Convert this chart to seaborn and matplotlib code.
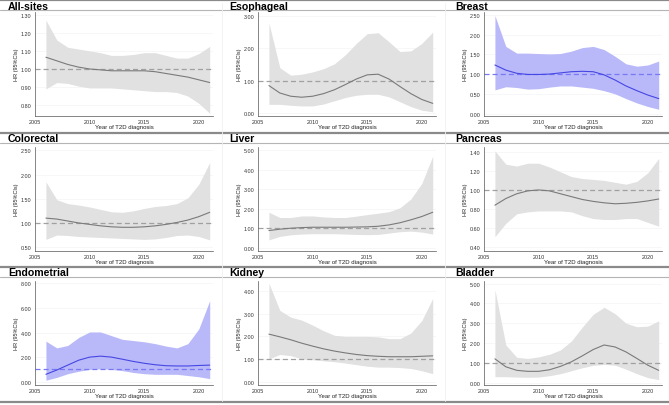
import matplotlib

matplotlib.use("Agg")
import matplotlib.pyplot as plt
import numpy as np
import pandas as pd
import seaborn as sns
from matplotlib.lines import Line2D

years = list(range(2006, 2022))

sites = ["All-sites", "Esophageal", "Breast",
         "Colorectal", "Liver", "Pancreas",
         "Endometrial", "Kidney", "Bladder"]

hr = {
    "All-sites": [1.065, 1.045, 1.025, 1.01, 1.0, 0.995, 0.99, 0.99, 0.99, 0.99, 0.985, 0.975, 0.965, 0.955, 0.94, 0.925],
    "Esophageal": [0.85, 0.62, 0.52, 0.49, 0.52, 0.60, 0.72, 0.88, 1.05, 1.18, 1.20, 1.05, 0.82, 0.60, 0.42, 0.30],
    "Breast": [1.23, 1.10, 1.02, 0.99, 0.99, 1.00, 1.03, 1.06, 1.07, 1.06, 0.98, 0.85, 0.70, 0.58, 0.47, 0.38],
    "Colorectal": [1.10, 1.08, 1.04, 1.00, 0.97, 0.94, 0.92, 0.91, 0.91, 0.92, 0.94, 0.97, 1.01, 1.06, 1.13, 1.22],
    "Liver": [0.88, 0.95, 1.00, 1.03, 1.05, 1.05, 1.05, 1.05, 1.06, 1.07, 1.10, 1.17, 1.28, 1.43, 1.60, 1.82],
    "Pancreas": [0.84, 0.91, 0.96, 0.99, 1.00, 0.99, 0.96, 0.93, 0.90, 0.88, 0.865, 0.855, 0.86, 0.87, 0.885, 0.905],
    "Endometrial": [0.60, 0.95, 1.35, 1.75, 2.00, 2.08, 2.00, 1.83, 1.65, 1.50, 1.38, 1.30, 1.28, 1.28, 1.32, 1.35],
    "Kidney": [2.10, 1.98, 1.85, 1.70, 1.57, 1.45, 1.35, 1.27, 1.20, 1.15, 1.12, 1.10, 1.10, 1.10, 1.12, 1.14],
    "Bladder": [1.20, 0.80, 0.62, 0.57, 0.57, 0.65, 0.82, 1.05, 1.35, 1.67, 1.90, 1.80, 1.55, 1.22, 0.88, 0.62],
}

ci_upper = {
    "All-sites": [1.27, 1.16, 1.12, 1.11, 1.10, 1.09, 1.075, 1.075, 1.08, 1.09, 1.09, 1.075, 1.06, 1.06, 1.085, 1.125],
    "Esophageal": [2.78, 1.40, 1.17, 1.20, 1.27, 1.37, 1.52, 1.80, 2.15, 2.45, 2.48, 2.20, 1.90, 1.92, 2.15, 2.50],
    "Breast": [2.48, 1.70, 1.53, 1.53, 1.52, 1.51, 1.52, 1.58, 1.67, 1.70, 1.62, 1.45, 1.26, 1.20, 1.23, 1.33],
    "Colorectal": [1.85, 1.48, 1.40, 1.37, 1.33, 1.28, 1.23, 1.22, 1.25, 1.30, 1.34, 1.36, 1.40, 1.52, 1.80, 2.25],
    "Liver": [1.82, 1.55, 1.55, 1.63, 1.63, 1.58, 1.55, 1.55, 1.62, 1.70, 1.77, 1.85, 2.05, 2.50, 3.30, 4.70],
    "Pancreas": [1.41, 1.27, 1.25, 1.28, 1.28, 1.24, 1.19, 1.14, 1.12, 1.11, 1.10, 1.08, 1.06, 1.09, 1.18, 1.33],
    "Endometrial": [3.30, 2.75, 2.95, 3.60, 4.05, 4.05, 3.75, 3.45, 3.35, 3.25, 3.10, 2.90, 2.75, 3.10, 4.30, 6.60],
    "Kidney": [4.35, 3.15, 2.85, 2.72, 2.50, 2.25, 2.05, 2.00, 2.00, 2.00, 1.98, 1.90, 1.90, 2.15, 2.70, 3.68],
    "Bladder": [4.70, 1.90, 1.28, 1.22, 1.30, 1.43, 1.65, 2.10, 2.80, 3.45, 3.80, 3.48, 3.00, 2.82, 2.85, 3.12],
}

ci_lower = {
    "All-sites": [0.89, 0.925, 0.92, 0.905, 0.895, 0.895, 0.895, 0.89, 0.885, 0.88, 0.875, 0.875, 0.87, 0.85, 0.81, 0.755],
    "Esophageal": [0.27, 0.27, 0.24, 0.22, 0.22, 0.28, 0.38, 0.48, 0.55, 0.58, 0.58, 0.50, 0.35, 0.20, 0.09, 0.04],
    "Breast": [0.60, 0.68, 0.66, 0.62, 0.63, 0.67, 0.70, 0.70, 0.67, 0.64, 0.58, 0.50, 0.38, 0.27, 0.18, 0.11],
    "Colorectal": [0.66, 0.75, 0.74, 0.72, 0.71, 0.70, 0.69, 0.68, 0.67, 0.66, 0.67, 0.70, 0.74, 0.75, 0.72, 0.65],
    "Liver": [0.40, 0.58, 0.66, 0.70, 0.72, 0.72, 0.72, 0.70, 0.68, 0.67, 0.68, 0.75, 0.82, 0.85, 0.80, 0.70],
    "Pancreas": [0.51, 0.65, 0.75, 0.77, 0.78, 0.78, 0.78, 0.77, 0.73, 0.70, 0.69, 0.69, 0.70, 0.70, 0.66, 0.62],
    "Endometrial": [0.12, 0.35, 0.65, 0.85, 1.00, 1.05, 1.00, 0.90, 0.75, 0.65, 0.60, 0.60, 0.60, 0.50, 0.40, 0.25],
    "Kidney": [1.00, 1.20, 1.15, 1.00, 0.97, 0.92, 0.88, 0.82, 0.75, 0.68, 0.64, 0.64, 0.62, 0.58, 0.48, 0.35],
    "Bladder": [0.30, 0.30, 0.28, 0.27, 0.28, 0.35, 0.45, 0.60, 0.75, 0.87, 0.92, 0.88, 0.68, 0.45, 0.25, 0.15],
}

y_limits = {
    "All-sites": (0.74, 1.315), "Esophageal": (-0.09, 3.12), "Breast": (-0.06, 2.57),
    "Colorectal": (0.42, 2.57), "Liver": (-0.17, 5.17), "Pancreas": (0.36, 1.45),
    "Endometrial": (-0.27, 8.2), "Kidney": (-0.15, 4.45), "Bladder": (-0.12, 5.13),
}
y_ticks = {
    "All-sites": np.arange(0.8, 1.31, 0.1), "Esophageal": np.arange(0, 3.1, 1.0),
    "Breast": np.arange(0, 2.51, 0.5), "Colorectal": np.arange(0.5, 2.51, 0.5),
    "Liver": np.arange(0, 5.1, 1.0), "Pancreas": np.arange(0.4, 1.41, 0.2),
    "Endometrial": np.arange(0, 8.1, 2.0), "Kidney": np.arange(0, 4.1, 1.0),
    "Bladder": np.arange(0, 5.1, 1.0),
}
blue_sites = {"Breast", "Endometrial"}

W, H = 669, 406
sns.set_style("white")
plt.rcParams["font.family"] = ["Liberation Sans", "DejaVu Sans"]

fig = plt.figure(figsize=(W / 100, H / 100), dpi=100)

col_left = [35, 258, 484]
col_title_x = [8, 229, 455]
row_top = [13, 148, 282]
row_line = [1, 134, 268]
ax_w, ax_h = 178, 104


def px_rect(left, top, width, height):
    return [left / W, 1 - (top + height) / H, width / W, height / H]


# row separators and title bars
for y in row_line:
    fig.add_artist(Line2D([0, 1], [1 - y / H] * 2, color="#8a8a8a", lw=1.6))
    fig.add_artist(Line2D([0, 1], [1 - (y + 10) / H] * 2, color="#b5b5b5", lw=0.8))
fig.add_artist(Line2D([0, 1], [1 - 403 / H] * 2, color="#8a8a8a", lw=1.6))
for x in [222, 445]:
    fig.add_artist(Line2D([x / W] * 2, [0.01, 0.99], color="#f0f0f0", lw=0.6))

for k, site in enumerate(sites):
    r, c = divmod(k, 3)
    ax = fig.add_axes(px_rect(col_left[c], row_top[r], ax_w, ax_h))
    df = pd.DataFrame({"year": years, "hr": hr[site],
                       "lo": ci_lower[site], "hi": ci_upper[site]})
    if site in blue_sites:
        fill_c, line_c, ref_c = "#b9b9fa", "#4646e4", "#7878f4"
    else:
        fill_c, line_c, ref_c = "#e1e1e1", "#7a7a7a", "#a0a0a0"
    ax.fill_between(df["year"], df["lo"], df["hi"], color=fill_c, lw=0, zorder=1)
    sns.lineplot(data=df, x="year", y="hr", ax=ax, color=line_c, lw=0.8, zorder=3)
    ax.axhline(1.0, color=ref_c, ls=(0, (4, 2.5)), lw=0.9, zorder=2)

    ax.set_xlim(2005, 2021.3)
    ax.set_ylim(*y_limits[site])
    ax.set_xticks([2005, 2010, 2015, 2020])
    ax.set_yticks(y_ticks[site])
    ax.set_yticklabels([f"{v:.2f}" for v in y_ticks[site]])
    ax.grid(axis="y", color="#f1f4f6", lw=0.5)
    ax.set_axisbelow(True)
    for s in ["top", "right"]:
        ax.spines[s].set_visible(False)
    for s in ["left", "bottom"]:
        ax.spines[s].set_color("#555555")
        ax.spines[s].set_linewidth(0.5)
    ax.tick_params(labelsize=3.9, length=1.5, width=0.4, pad=1, colors="#333333")
    ax.set_xlabel("Year of T2D diagnosis", fontsize=4.3, labelpad=-0.5, color="#222222")
    ax.set_ylabel("HR (95%CIs)", fontsize=4, labelpad=1, color="#222222")

    fig.text(col_title_x[c] / W, 1 - (row_line[r] + 8.5) / H, site,
             fontsize=7.6, fontweight="bold", color="black")

fig.savefig("out.png", dpi=100)
